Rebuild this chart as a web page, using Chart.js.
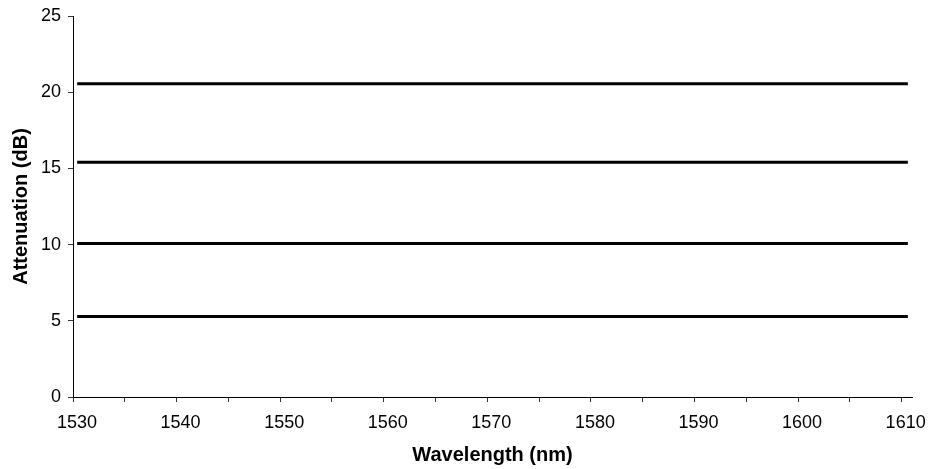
<!DOCTYPE html>
<html lang="en">
<head>
  <meta charset="UTF-8">
  <title>Attenuation vs Wavelength</title>
  <script src="https://cdn.jsdelivr.net/npm/chart.js"></script>
  <style>
    body { margin: 0; background: #fff; }
  </style>
</head>
<body>
  <canvas id="chart" width="928" height="469"></canvas>

  <script>
    // wavelength span covered by each flat line (nm)
    var wavelengthRange = [1530.4, 1610.6];
    // attenuation level of each line (dB)
    var attenuation = [20.55, 15.4, 10.07, 5.28];

    var xTicks = [1530, 1540, 1550, 1560, 1570, 1580, 1590, 1600, 1610];
    var yTicks = [0, 5, 10, 15, 20, 25];

    var datasets = attenuation.map(function (v) {
      return {
        data: wavelengthRange.map(function (w) { return { x: w, y: v }; }),
        borderColor: '#000',
        borderWidth: 3,
        pointRadius: 0,
        showLine: true,
        fill: false
      };
    });

    var ctx = document.getElementById('chart').getContext('2d');
    new Chart(ctx, {
      type: 'scatter',
      data: { datasets: datasets },
      options: {
        responsive: false,
        animation: false,
        layout: { padding: { top: 16, right: 16, left: 0, bottom: 0 } },
        plugins: { legend: { display: false }, tooltip: { enabled: false } },
        scales: {
          x: {
            type: 'linear',
            min: 1530,
            max: 1611,
            afterBuildTicks: function (s) {
              // major ticks plus a minor tick halfway between
              var t = [];
              xTicks.forEach(function (v, i) {
                t.push({ value: v });
                if (i < xTicks.length - 1) t.push({ value: v + 5 });
              });
              s.ticks = t;
            },
            afterFit: function (s) {
              s.height = 72;
              // don't let the end labels push the plot area in
              s.paddingLeft = 0;
              s.paddingRight = 0;
            },
            ticks: {
              autoSkip: false,
              maxRotation: 0,
              padding: 10,
              labelOffset: 4,
              color: '#000',
              font: { family: 'Liberation Sans', size: 18 },
              callback: function (v) { return xTicks.indexOf(v) >= 0 ? v : ''; }
            },
            grid: { drawOnChartArea: false, tickLength: 5, color: '#333' },
            border: { color: '#000', width: 1 },
            title: {
              display: true,
              text: 'Wavelength (nm)',
              color: '#000',
              font: { family: 'Liberation Sans', size: 20, weight: 'bold' },
              padding: { top: 0, bottom: 2 }
            }
          },
          y: {
            min: 0,
            max: 25,
            afterBuildTicks: function (s) {
              s.ticks = yTicks.map(function (v) { return { value: v }; });
            },
            afterFit: function (s) {
              s.width = 73;
              s.paddingTop = 0;
              s.paddingBottom = 0;
            },
            ticks: {
              padding: 7,
              color: '#000',
              font: { family: 'Liberation Sans', size: 18 }
            },
            grid: { drawOnChartArea: false, tickLength: 5, color: '#333' },
            border: { color: '#000', width: 1 },
            title: {
              display: true,
              text: 'Attenuation (dB)',
              color: '#000',
              font: { family: 'Liberation Sans', size: 20, weight: 'bold' },
              padding: { top: 9, bottom: 0 }
            }
          }
        }
      }
    });
  </script>
</body>
</html>
